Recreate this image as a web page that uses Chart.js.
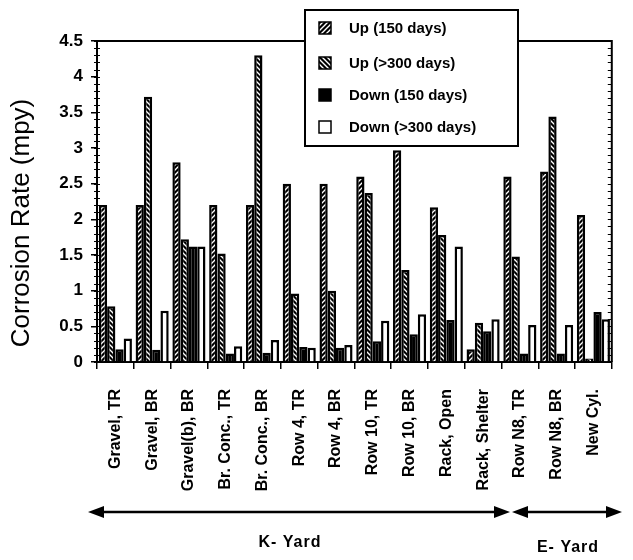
<!DOCTYPE html>
<html>
<head>
<meta charset="utf-8">
<script src="https://cdn.jsdelivr.net/npm/chart.js@4.4.1/dist/chart.umd.min.js"></script>
<style>
    html, body { margin: 0; padding: 0; background: #fff; }
    #wrap { width: 633px; height: 560px; }
</style>
</head>
<body>
<div id="wrap"><canvas id="chart" width="633" height="560"></canvas></div>
<script>
const sites = [
    'Gravel, TR', 'Gravel, BR', 'Gravel(b), BR', 'Br. Conc., TR', 'Br. Conc., BR',
    'Row 4, TR', 'Row 4, BR', 'Row 10, TR', 'Row 10, BR', 'Rack, Open',
    'Rack, Shelter', 'Row N8, TR', 'Row N8, BR', 'New Cyl.',
];
const yTickLabels = ['0', '0.5', '1', '1.5', '2', '2.5', '3', '3.5', '4', '4.5'];

// corrosion rates, mpy
const up150 = [2.2, 2.2, 2.8, 2.2, 2.2, 2.5, 2.5, 2.6, 2.97, 2.17, 0.18, 2.6, 2.67, 2.06];
const up300 = [0.78, 3.72, 1.72, 1.52, 4.3, 0.96, 1.0, 2.37, 1.29, 1.78, 0.55, 1.48, 3.44, 0.05];
const down150 = [0.18, 0.17, 1.62, 0.12, 0.13, 0.21, 0.2, 0.29, 0.39, 0.59, 0.43, 0.12, 0.12, 0.7];
const down300 = [0.33, 0.72, 1.62, 0.22, 0.31, 0.2, 0.24, 0.58, 0.67, 1.62, 0.6, 0.52, 0.52, 0.6];

const yards = [
    { name: 'K- Yard', from: 88, to: 510, textX: 290, textY: 543 },
    { name: 'E- Yard', from: 512, to: 622, textX: 568, textY: 548 },
];

const FONT = '"Liberation Sans", Arial, Helvetica, sans-serif';

const canvas = document.getElementById('chart');
const ctx = canvas.getContext('2d');

// black tile with white diagonal strokes; dir 1 = "/", -1 = "\"
const makeHatch = (dir) => {
    const size = 5;
    const tile = document.createElement('canvas');
    tile.width = size;
    tile.height = size;
    const g = tile.getContext('2d');
    g.fillStyle = '#000';
    g.fillRect(0, 0, size, size);
    g.strokeStyle = '#fff';
    g.lineWidth = 1.4;
    g.beginPath();
    for (let k = -1; k <= 1; k += 1) {
        const o = k * size;
        if (dir > 0) {
            g.moveTo(o - 1, size + 1);
            g.lineTo(o + size + 1, -1);
        } else {
            g.moveTo(o - 1, -1);
            g.lineTo(o + size + 1, size + 1);
        }
    }
    g.stroke();
    return ctx.createPattern(tile, 'repeat');
};

const hatchFwd = makeHatch(1);
const hatchBack = makeHatch(-1);

const series = [
    { label: 'Up (150 days)', data: up150, fill: hatchFwd },
    { label: 'Up (>300 days)', data: up300, fill: hatchBack },
    { label: 'Down (150 days)', data: down150, fill: '#000' },
    { label: 'Down (>300 days)', data: down300, fill: '#fff' },
];

const decorations = {
    id: 'decorations',
    afterDraw(chart) {
        const c = chart.ctx;
        const { left, right, top, bottom } = chart.chartArea;
        const y = chart.scales.y;

        c.save();
        c.strokeStyle = '#000';
        c.fillStyle = '#000';

        // frame top and right
        c.lineWidth = 2;
        c.beginPath();
        c.moveTo(left, top);
        c.lineTo(right, top);
        c.lineTo(right, bottom);
        c.stroke();

        // minor ticks every 0.1 on both vertical axes
        c.lineWidth = 1;
        for (let i = 0; i <= 45; i += 1) {
            const py = Math.round(y.getPixelForValue(i / 10)) + 0.5;
            c.beginPath();
            c.moveTo(left - 3, py);
            c.lineTo(left + 3, py);
            c.moveTo(right - 4, py);
            c.lineTo(right, py);
            c.stroke();
        }

        // y axis title
        c.save();
        c.translate(22, 223);
        c.rotate(-Math.PI / 2);
        c.font = `26px ${FONT}`;
        c.textAlign = 'center';
        c.textBaseline = 'middle';
        c.fillText('Corrosion Rate (mpy)', 0, 0);
        c.restore();

        // legend box
        c.fillStyle = '#fff';
        c.fillRect(305, 10, 213, 136);
        c.lineWidth = 2;
        c.strokeRect(305, 10, 213, 136);
        const rows = [28, 63, 95, 127];
        series.forEach((s, i) => {
            c.fillStyle = s.fill;
            c.fillRect(319, rows[i] - 6, 12, 12);
            c.lineWidth = 1.5;
            c.strokeRect(319, rows[i] - 6, 12, 12);
            c.fillStyle = '#000';
            c.font = `bold 15px ${FONT}`;
            c.textAlign = 'left';
            c.textBaseline = 'middle';
            c.fillText(s.label, 349, rows[i] + 1);
        });

        // yard arrows
        const ay = 512;
        yards.forEach((yd) => {
            c.lineWidth = 2.5;
            c.beginPath();
            c.moveTo(yd.from + 10, ay);
            c.lineTo(yd.to - 10, ay);
            c.stroke();
            c.beginPath();
            c.moveTo(yd.from, ay);
            c.lineTo(yd.from + 16, ay - 6);
            c.lineTo(yd.from + 16, ay + 6);
            c.closePath();
            c.moveTo(yd.to, ay);
            c.lineTo(yd.to - 16, ay - 6);
            c.lineTo(yd.to - 16, ay + 6);
            c.closePath();
            c.fill();
            c.font = `bold 16px ${FONT}`;
            c.letterSpacing = '1px';
            c.textAlign = 'center';
            c.textBaseline = 'middle';
            c.fillText(yd.name, yd.textX, yd.textY);
            c.letterSpacing = '0px';
        });

        c.restore();
    },
};

new Chart(canvas, {
    type: 'bar',
    data: {
        labels: sites,
        datasets: series.map((s) => ({
            label: s.label,
            data: s.data,
            backgroundColor: s.fill,
            borderColor: '#000',
            borderWidth: 2.5,
            borderSkipped: 'start',
        })),
    },
    options: {
        responsive: false,
        animation: false,
        layout: { padding: { top: 41, right: 11, left: 0, bottom: 0 } },
        plugins: {
            legend: { display: false },
            tooltip: { enabled: false },
        },
        datasets: {
            bar: { categoryPercentage: 0.9, barPercentage: 1.0 },
        },
        scales: {
            x: {
                grid: { offset: true, drawOnChartArea: false, tickLength: 7, color: '#000', lineWidth: 1.5 },
                border: { color: '#000', width: 2 },
                ticks: {
                    autoSkip: false,
                    minRotation: 90,
                    maxRotation: 90,
                    padding: 20,
                    color: '#000',
                    font: { family: FONT, size: 16, weight: 'bold' },
                },
                afterFit: (scale) => { scale.height = 198; },
            },
            y: {
                min: 0,
                max: 4.5,
                ticks: {
                    stepSize: 0.5,
                    padding: 8,
                    color: '#000',
                    font: { family: FONT, size: 17, weight: 'bold' },
                    callback: (value, index) => yTickLabels[index],
                },
                grid: { drawOnChartArea: false, tickLength: 6, color: '#000', lineWidth: 1.5 },
                border: { color: '#000', width: 2 },
                afterFit: (scale) => { scale.width = 97; },
            },
        },
    },
    plugins: [decorations],
});
</script>
</body>
</html>
